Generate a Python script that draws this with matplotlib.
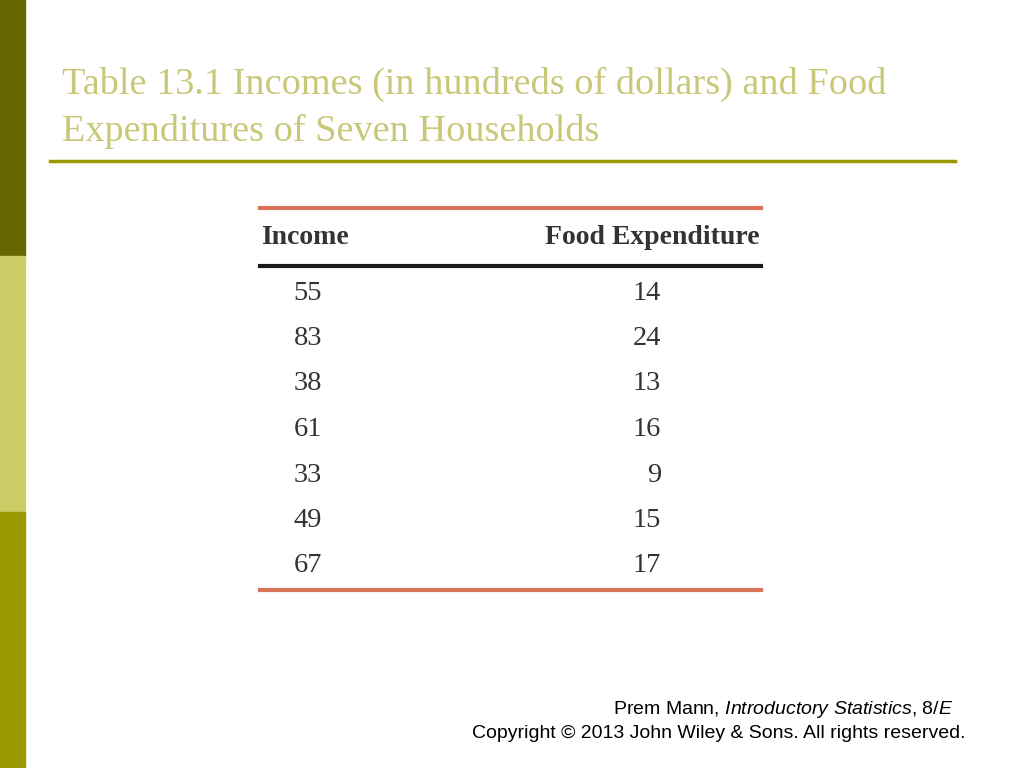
import matplotlib.pyplot as plt

plt.rcParams['mathtext.fontset'] = 'custom'
plt.rcParams['mathtext.it'] = 'Liberation Sans:italic'
plt.rcParams['mathtext.rm'] = 'Liberation Sans'

income = [55, 83, 38, 61, 33, 49, 67]
food = [14, 24, 13, 16, 9, 15, 17]
headers = ['Income', 'Food Expenditure']

fig = plt.figure(figsize=(10.24, 7.68), dpi=100)
ax = fig.add_axes([0, 0, 1, 1])
ax.set_xlim(0, 1024)
ax.set_ylim(768, 0)
ax.axis('off')

# left colour strip
ax.add_patch(plt.Rectangle((0, 0), 25, 256, color='#666600'))
ax.add_patch(plt.Rectangle((0, 256), 25, 256, color='#CCCC66'))
ax.add_patch(plt.Rectangle((0, 512), 25, 256, color='#999900'))

serif = 'Liberation Serif'
ax.text(62, 84, 'Table 13.1 Incomes (in hundreds of dollars) and Food',
        fontsize=27.5, family=serif, color='#C8C878', va='center')
ax.text(62, 131, 'Expenditures of Seven Households',
        fontsize=27.5, family=serif, color='#C8C878', va='center')
ax.plot([50, 955], [161, 161], color='#999900', lw=2.5)

# table
ax.plot([260, 761], [208, 208], color='#D9735A', lw=3)
ax.plot([260, 761], [266, 266], color='#1a1a1a', lw=3)
ax.plot([260, 761], [590, 590], color='#D9735A', lw=3)
ax.text(261, 238, headers[0], fontsize=20, family=serif, weight='bold',
        color='#333333', va='center')
ax.text(760, 238, headers[1], fontsize=20, family=serif, weight='bold',
        color='#333333', va='center', ha='right')
for i, (a, b) in enumerate(zip(income, food)):
    y = 293 + i * 45.5
    ax.text(322, y, str(a), fontsize=20.5, family=serif, color='#333333',
            va='center', ha='right')
    ax.text(661, y, str(b), fontsize=20.5, family=serif, color='#333333',
            va='center', ha='right')

# footer
ax.text(953, 710, 'Prem Mann, $\\mathit{Introductory\\ Statistics}$, $\\mathit{8/E}$',
        fontsize=14, family='Liberation Sans', ha='right', va='center')
ax.text(965, 733, 'Copyright © 2013 John Wiley & Sons. All rights reserved.',
        fontsize=14, family='Liberation Sans', ha='right', va='center')

fig.savefig('out.png', dpi=100)
